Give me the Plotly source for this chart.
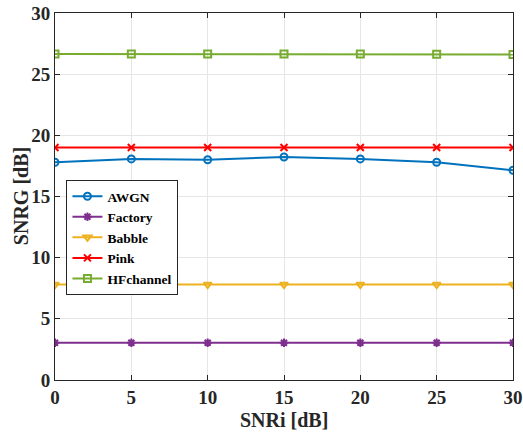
import plotly.graph_objects as go

snri = [0, 5, 10, 15, 20, 25, 30]
awgn = [17.8, 18.07, 18.0, 18.23, 18.07, 17.8, 17.15]
factory = [3.05, 3.05, 3.05, 3.05, 3.05, 3.05, 3.05]
babble = [7.8, 7.8, 7.8, 7.8, 7.8, 7.8, 7.8]
pink = [19.0, 19.0, 19.0, 19.0, 19.0, 19.0, 19.0]
hf = [26.65, 26.65, 26.65, 26.65, 26.65, 26.63, 26.6]

series = [
    ("AWGN", awgn, "#0072BD", "circle-open"),
    ("Factory", factory, "#7E2F8E", "asterisk-open"),
    ("Babble", babble, "#EDB120", "triangle-down-open"),
    ("Pink", pink, "#FF0000", "x-thin-open"),
    ("HFchannel", hf, "#77AC30", "square-open"),
]

fig = go.Figure()
for name, ys, col, sym in series:
    fig.add_trace(go.Scatter(
        x=snri, y=ys, name=name, mode="lines+markers",
        line=dict(color=col, width=2),
        marker=dict(symbol=sym, size=7, color=col, line=dict(color=col, width=2)),
    ))

titlefont = dict(family="Liberation Serif", size=20, color="#262626", weight="bold")
axcommon = dict(
    showline=True, linecolor="#262626", linewidth=1, mirror="ticks",
    ticks="inside", ticklen=5, tickcolor="#262626",
    showgrid=True, gridcolor="#E6E6E6", gridwidth=1, zeroline=False,
    automargin=False,
    tickfont=dict(family="Liberation Serif", size=19, color="#262626", weight="bold"),
)
fig.update_layout(
    width=523, height=432,
    margin=dict(l=55, r=10, t=13, b=52, autoexpand=False),
    paper_bgcolor="white", plot_bgcolor="white",
    font=dict(family="Liberation Serif", size=16, color="#262626"),
    showlegend=True,
    legend=dict(
        x=0.025, y=0.545, xanchor="left", yanchor="top",
        bgcolor="white", bordercolor="#262626", borderwidth=1,
        font=dict(family="Liberation Serif", size=13.5, color="#000000", weight="bold"),
        tracegroupgap=0, itemwidth=30,
    ),
    xaxis=dict(range=[0, 30], tickvals=[0, 5, 10, 15, 20, 25, 30], **axcommon),
    yaxis=dict(range=[0, 30], tickvals=[0, 5, 10, 15, 20, 25, 30], **axcommon),
    annotations=[
        dict(text="SNRi [dB]", xref="paper", yref="paper", x=0.5, y=-0.108,
             xanchor="center", yanchor="middle", showarrow=False, font=titlefont),
        dict(text="SNRG [dB]", xref="paper", yref="paper", x=-0.075, y=0.5,
             xanchor="center", yanchor="middle", showarrow=False, textangle=-90, font=titlefont),
    ],
)
fig.write_html("out.html")
